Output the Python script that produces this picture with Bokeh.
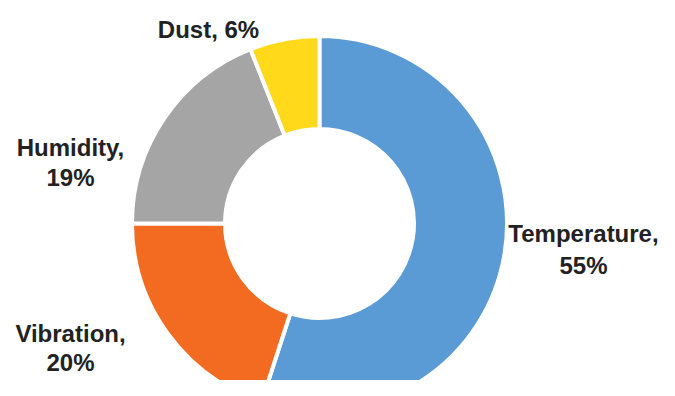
import numpy as np
from bokeh.plotting import figure
from bokeh.models import Range1d, ColumnDataSource
from bokeh.embed import file_html
from bokeh.resources import INLINE
from bokeh.core.properties import value

# ---- data ----
categories = ["Temperature", "Vibration", "Humidity", "Dust"]
shares = [55, 20, 19, 6]
colors = ["#5B9BD5", "#F26B21", "#A5A5A5", "#FFD91A"]

# ---- layout (picture pixels; data y = 396 - screen y) ----
W, H = 659, 380
p = figure(width=W, height=H, x_range=Range1d(0, 659), y_range=Range1d(16, 396),
           output_backend="svg", toolbar_location=None, min_border=0,
           outline_line_color=None, background_fill_color="white")
p.axis.visible = False
p.grid.visible = False

cx, cy = 319, 396 - 223
frac = np.array(shares, dtype=float) / sum(shares)
cum = np.concatenate([[0.0], np.cumsum(frac)])
start = np.pi / 2 - 2 * np.pi * cum[:-1]
end = np.pi / 2 - 2 * np.pi * cum[1:]
src = ColumnDataSource(dict(start=start, end=end, color=colors))
p.annular_wedge(x=cx, y=cy, inner_radius=94.5, outer_radius=187.5,
                start_angle="start", end_angle="end", direction="clock",
                fill_color="color", line_color="white", line_width=4, source=src)

# label placement (screen x, baseline screen y of each line)
label_pos = {
    "Temperature": (583, [233, 265]),
    "Vibration": (70, [333, 362]),
    "Humidity": (70, [147, 177]),
    "Dust": (208, [29]),
}
xs, ys, txt = [], [], []
for cat, s in zip(categories, shares):
    x, bl = label_pos[cat]
    lines = [f"{cat}, {s}%"] if len(bl) == 1 else [f"{cat},", f"{s}%"]
    for line, b in zip(lines, bl):
        xs.append(x)
        ys.append(396 - b)
        txt.append(line)

p.text(x=xs, y=ys, text=txt, text_font=value("Liberation Sans"),
       text_font_style="bold", text_font_size="24px", text_align="center",
       text_baseline="alphabetic", text_color="#222222")

open("out.html", "w").write(file_html(p, INLINE))
